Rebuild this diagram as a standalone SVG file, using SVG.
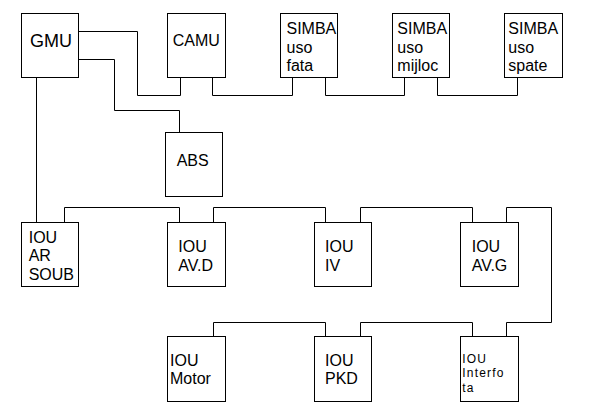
<svg xmlns="http://www.w3.org/2000/svg" width="590" height="415" viewBox="0 0 590 415">
<style>
.n{fill:#fff;stroke:#000;stroke-width:1}
path{fill:none;stroke:#000;stroke-width:1}
text{font-family:"Liberation Sans",Arial,sans-serif;font-size:16px;fill:#000}
.big{font-size:18px}
.sm{font-size:12px;letter-spacing:1.2px}
</style>
<rect width="590" height="415" fill="#fff"/>
<g id="connectors">
<path d="M78.5 31.5H137.5V95.5H180.5V77.5"/>
<path d="M212.5 77.5V95.5H292.5V77.5"/>
<path d="M325.5 77.5V95.5H404.5V77.5"/>
<path d="M437.5 77.5V95.5H517.5V77.5"/>
<path d="M78.5 59.5H114.5V110.5H179.5V132.5"/>
<path d="M36.5 77.5V222.5"/>
<path d="M64.5 222.5V207.5H179.5V222.5"/>
<path d="M213.5 222.5V207.5H325.5V222.5"/>
<path d="M360.5 222.5V207.5H472.5V222.5"/>
<path d="M506.5 222.5V207.5H551.5V322.5H506.5V336.5"/>
<path d="M472.5 336.5V322.5H360.5V336.5"/>
<path d="M325.5 336.5V322.5H213.5V336.5"/>
</g>
<g id="gmu"><rect class="n" x="21.5" y="13.5" width="57" height="64"/><text class="big" x="30" y="47.3">GMU</text></g>
<g id="camu"><rect class="n" x="167.5" y="13.5" width="58" height="64"/><text x="172.7" y="46">CAMU</text></g>
<g id="simba-fata"><rect class="n" x="280.5" y="13.5" width="57" height="64"/>
<text x="286.5" y="34.3">SIMBA</text>
<text x="286.5" y="52.7">uso</text>
<text x="286.5" y="71">fata</text></g>
<g id="simba-mijloc"><rect class="n" x="392.5" y="13.5" width="57" height="64"/>
<text x="397.3" y="34.3">SIMBA</text>
<text x="397.3" y="52.7">uso</text>
<text x="397.3" y="71">mijloc</text></g>
<g id="simba-spate"><rect class="n" x="504.5" y="13.5" width="58" height="64"/>
<text x="508.3" y="34.3">SIMBA</text>
<text x="508.3" y="52.7">uso</text>
<text x="508.3" y="71">spate</text></g>
<g id="abs"><rect class="n" x="165.5" y="132.5" width="57" height="64"/><text x="176.7" y="166">ABS</text></g>
<g id="iou-ar-soub"><rect class="n" x="21.5" y="222.5" width="57" height="64"/>
<text x="28.7" y="242.7">IOU</text>
<text x="28.7" y="261">AR</text>
<text x="28.7" y="280">SOUB</text></g>
<g id="iou-avd"><rect class="n" x="167.5" y="222.5" width="58" height="64"/>
<text x="178.3" y="251.7">IOU</text>
<text x="178.3" y="270.7">AV.D</text></g>
<g id="iou-iv"><rect class="n" x="314.5" y="222.5" width="57" height="64"/>
<text x="325" y="251.7">IOU</text>
<text x="325" y="270.7">IV</text></g>
<g id="iou-avg"><rect class="n" x="460.5" y="222.5" width="58" height="64"/>
<text x="471.7" y="251.7">IOU</text>
<text x="471.7" y="270.7">AV.G</text></g>
<g id="iou-motor"><rect class="n" x="167.5" y="336.5" width="58" height="65"/>
<text x="170" y="365.7">IOU</text>
<text x="170" y="384.3">Motor</text></g>
<g id="iou-pkd"><rect class="n" x="314.5" y="336.5" width="57" height="65"/>
<text x="325" y="365.7">IOU</text>
<text x="325" y="384.3">PKD</text></g>
<g id="iou-interfota"><rect class="n" x="460.5" y="336.5" width="58" height="65"/>
<text class="sm" x="462.3" y="363.3">IOU</text>
<text class="sm" x="462.3" y="377.3">Interfo</text>
<text class="sm" x="462.3" y="392">ta</text></g>
</svg>
